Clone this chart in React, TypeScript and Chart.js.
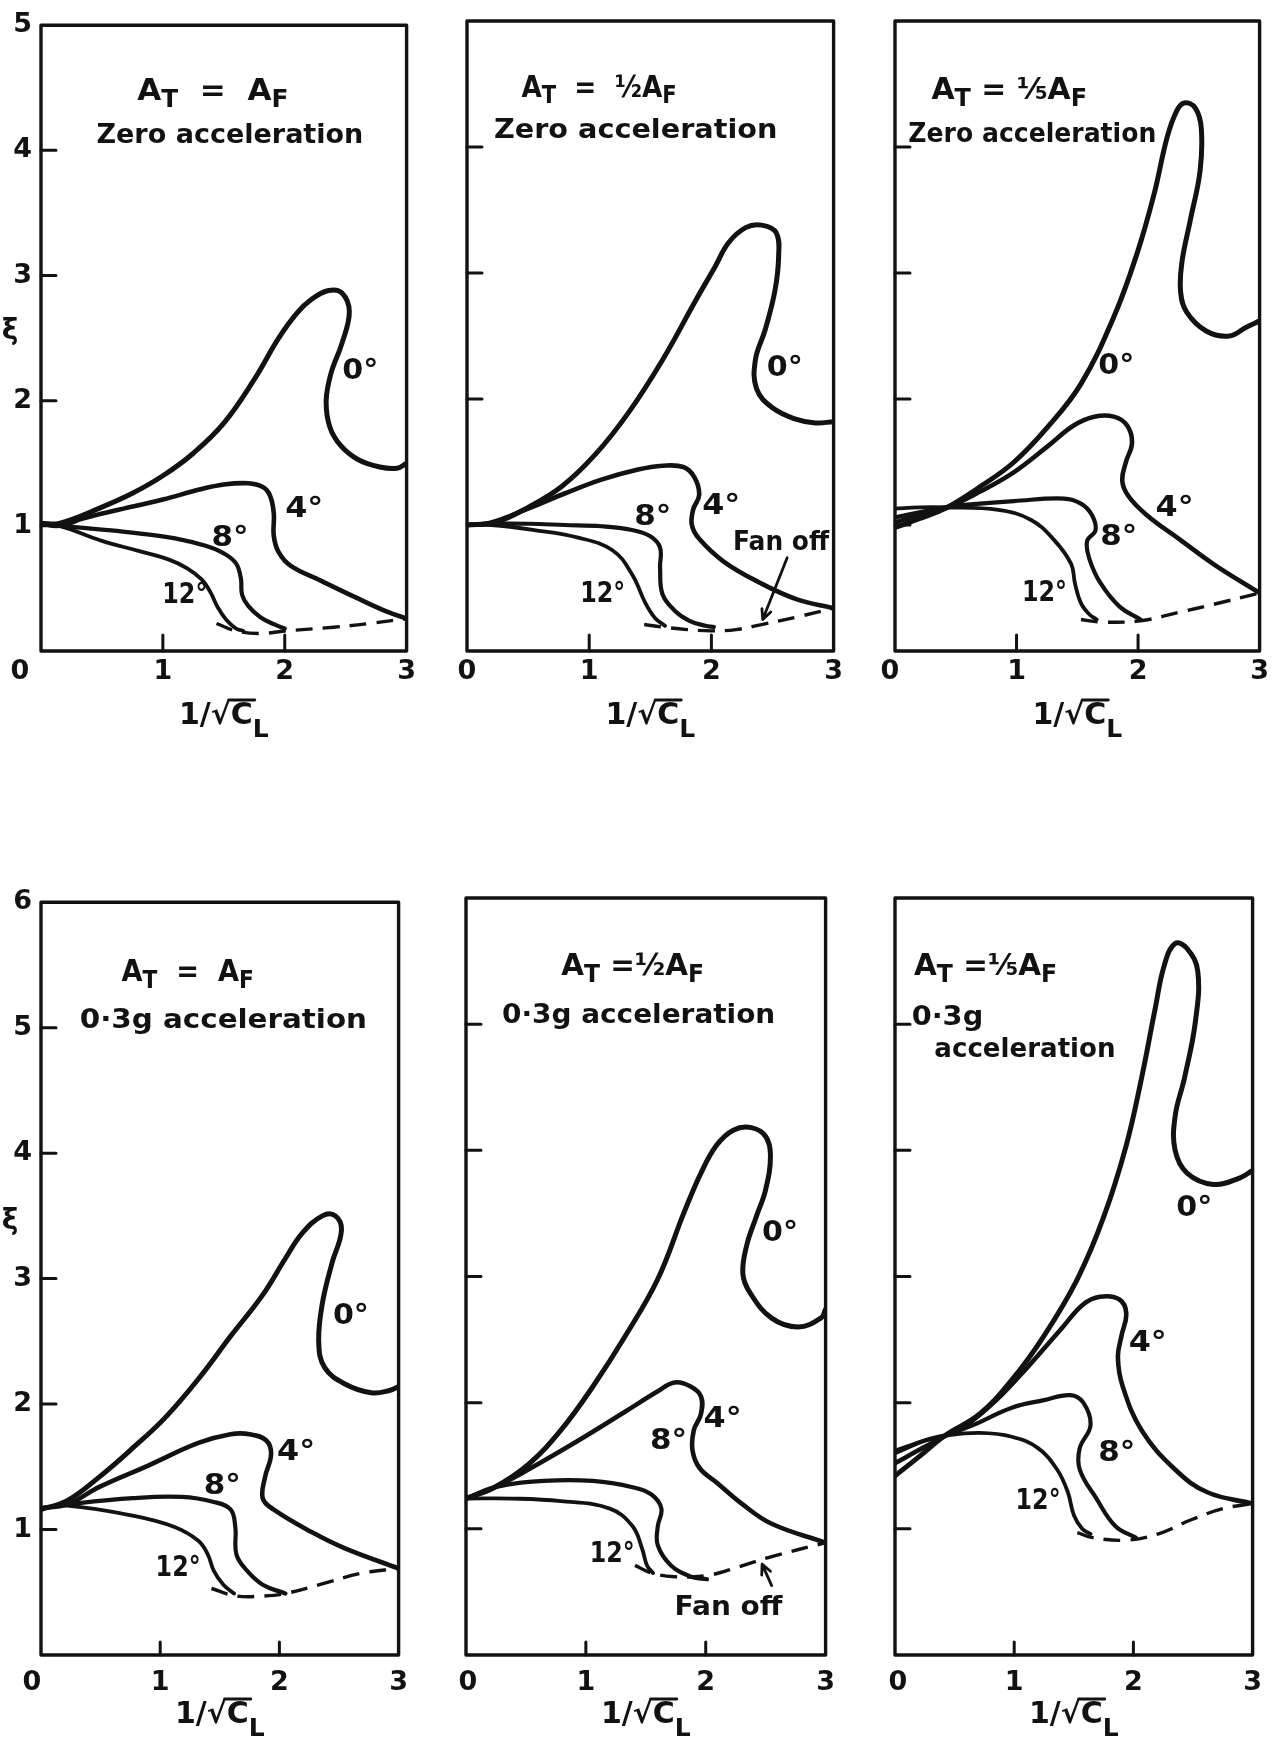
import React, { useEffect, useRef } from 'react';
import { Chart, registerables } from 'chart.js';

Chart.register(...registerables);

const INK = '#121212';
const FONT = '"DejaVu Sans", "Liberation Sans", sans-serif';

// ---------- tick values & labels ----------
const xInnerTickValues = [1, 2];
const yMaxTop = 5;
const yMaxBottom = 6;
const angleLabels = ['0°', '4°', '8°', '12°'];
const fanOffLabel = 'Fan off';
const xiLabel = 'ξ';
const originLabel = '0';
const line2Zero = 'Zero acceleration';
const line2Acc = '0·3g acceleration';
const line2AccA = '0·3g';
const line2AccB = 'acceleration';

// ---------- Panel 1: A_T = A_F, zero acceleration ----------
const p1Deg0 = [[0, 1.02], [0.15, 1.02], [0.5, 1.15], [0.75, 1.26], [1.0, 1.4], [1.25, 1.58], [1.5, 1.82], [1.75, 2.17], [1.95, 2.5], [2.1, 2.7], [2.22, 2.81], [2.36, 2.88], [2.47, 2.86], [2.53, 2.71], [2.47, 2.46], [2.38, 2.22], [2.34, 2.0], [2.37, 1.79], [2.46, 1.64], [2.6, 1.53], [2.78, 1.47], [2.92, 1.46], [3.0, 1.5]];
const p1Deg4 = [[0, 1.02], [0.15, 1.0], [0.35, 1.06], [0.6, 1.12], [1.0, 1.21], [1.3, 1.29], [1.5, 1.33], [1.7, 1.34], [1.82, 1.31], [1.88, 1.24], [1.91, 1.1], [1.91, 0.92], [1.95, 0.79], [2.05, 0.68], [2.3, 0.56], [2.6, 0.42], [2.85, 0.31], [3.0, 0.26]];
const p1Deg8 = [[0, 1.01], [0.15, 1.0], [0.5, 0.97], [0.8, 0.94], [1.1, 0.9], [1.35, 0.84], [1.5, 0.78], [1.6, 0.7], [1.64, 0.58], [1.65, 0.45], [1.7, 0.36], [1.8, 0.27], [1.92, 0.21], [2.0, 0.18]];
const p1Deg12 = [[0, 1.01], [0.15, 1.0], [0.5, 0.88], [0.8, 0.8], [1.05, 0.73], [1.2, 0.66], [1.32, 0.57], [1.39, 0.47], [1.45, 0.35], [1.52, 0.25], [1.6, 0.18], [1.66, 0.16]];
const p1FanOff = [[1.44, 0.22], [1.6, 0.16], [1.8, 0.14], [2.0, 0.16], [2.4, 0.19], [2.7, 0.22], [3.0, 0.26]];

// ---------- Panel 2: A_T = 1/2 A_F, zero acceleration ----------
const p2Deg0 = [[0, 1.0], [0.23, 1.02], [0.5, 1.14], [0.78, 1.31], [1.05, 1.56], [1.32, 1.89], [1.6, 2.31], [1.87, 2.78], [2.03, 3.05], [2.14, 3.24], [2.28, 3.36], [2.41, 3.38], [2.53, 3.32], [2.55, 3.13], [2.52, 2.86], [2.44, 2.55], [2.36, 2.31], [2.37, 2.08], [2.5, 1.93], [2.69, 1.84], [2.85, 1.81], [3.0, 1.82]];
const p2Deg4 = [[0, 1.0], [0.2, 1.02], [0.5, 1.13], [0.8, 1.25], [1.1, 1.36], [1.4, 1.44], [1.6, 1.47], [1.77, 1.46], [1.86, 1.38], [1.9, 1.24], [1.85, 1.12], [1.84, 1.0], [1.9, 0.89], [2.1, 0.71], [2.4, 0.54], [2.7, 0.41], [3.0, 0.34]];
const p2Deg8 = [[0, 1.0], [0.2, 1.01], [0.5, 1.01], [0.8, 1.0], [1.1, 0.99], [1.35, 0.96], [1.5, 0.91], [1.58, 0.82], [1.58, 0.66], [1.6, 0.45], [1.7, 0.32], [1.82, 0.24], [1.95, 0.2], [2.02, 0.19]];
const p2Deg12 = [[0, 1.0], [0.2, 1.0], [0.55, 0.96], [0.91, 0.9], [1.19, 0.8], [1.35, 0.61], [1.46, 0.38], [1.54, 0.26], [1.62, 0.2]];
const p2FanOff = [[1.45, 0.21], [1.6, 0.19], [1.8, 0.17], [2.0, 0.16], [2.2, 0.17], [2.41, 0.21], [2.7, 0.27], [3.0, 0.34]];

// ---------- Panel 3: A_T = 1/5 A_F, zero acceleration ----------
const p3Deg0 = [[0, 0.98], [0.2, 1.05], [0.41, 1.13], [0.71, 1.31], [0.98, 1.5], [1.25, 1.77], [1.53, 2.12], [1.8, 2.65], [1.99, 3.15], [2.13, 3.62], [2.24, 4.08], [2.32, 4.29], [2.38, 4.35], [2.47, 4.31], [2.52, 4.15], [2.51, 3.81], [2.43, 3.42], [2.36, 3.08], [2.35, 2.85], [2.4, 2.69], [2.56, 2.54], [2.75, 2.5], [2.89, 2.57], [3.0, 2.62]];
const p3Deg4 = [[0, 1.02], [0.2, 1.08], [0.41, 1.13], [0.71, 1.27], [0.98, 1.42], [1.25, 1.62], [1.47, 1.79], [1.64, 1.86], [1.8, 1.86], [1.91, 1.79], [1.95, 1.65], [1.9, 1.5], [1.87, 1.35], [1.92, 1.23], [2.07, 1.08], [2.35, 0.88], [2.62, 0.69], [3.0, 0.46]];
const p3Deg8 = [[0, 1.06], [0.2, 1.1], [0.41, 1.14], [0.7, 1.17], [0.98, 1.19], [1.39, 1.21], [1.53, 1.17], [1.62, 1.08], [1.65, 0.96], [1.58, 0.87], [1.6, 0.73], [1.69, 0.54], [1.85, 0.35], [2.02, 0.25]];
const p3Deg12 = [[0, 1.13], [0.2, 1.14], [0.41, 1.14], [0.85, 1.12], [1.12, 1.04], [1.31, 0.88], [1.45, 0.69], [1.48, 0.54], [1.53, 0.38], [1.6, 0.29], [1.66, 0.25]];
const p3FanOff = [[1.53, 0.25], [1.69, 0.23], [2.02, 0.24], [2.35, 0.31], [2.62, 0.37], [3.0, 0.46]];

// ---------- Panel 4: A_T = A_F, 0.3g acceleration ----------
const p4Deg0 = [[0, 1.16], [0.22, 1.23], [0.49, 1.42], [0.77, 1.65], [1.04, 1.89], [1.32, 2.2], [1.59, 2.54], [1.86, 2.87], [2.05, 3.16], [2.19, 3.36], [2.36, 3.5], [2.47, 3.5], [2.52, 3.38], [2.44, 3.12], [2.36, 2.8], [2.33, 2.49], [2.38, 2.29], [2.55, 2.16], [2.77, 2.09], [2.93, 2.11], [3.0, 2.14]];
const p4Deg4 = [[0, 1.17], [0.22, 1.2], [0.49, 1.34], [0.9, 1.51], [1.32, 1.69], [1.59, 1.76], [1.75, 1.76], [1.89, 1.71], [1.93, 1.6], [1.88, 1.42], [1.86, 1.25], [1.95, 1.16], [2.27, 0.98], [2.55, 0.85], [3.0, 0.69]];
const p4Deg8 = [[0, 1.17], [0.22, 1.2], [0.77, 1.25], [1.18, 1.26], [1.45, 1.22], [1.59, 1.16], [1.63, 1.02], [1.64, 0.8], [1.73, 0.67], [1.86, 0.56], [2.05, 0.49]];
const p4Deg12 = [[0, 1.17], [0.22, 1.19], [0.77, 1.11], [1.12, 1.02], [1.32, 0.91], [1.4, 0.8], [1.45, 0.67], [1.53, 0.56], [1.62, 0.49]];
const p4FanOff = [[1.43, 0.53], [1.64, 0.47], [1.86, 0.47], [2.05, 0.49], [2.41, 0.58], [2.68, 0.65], [3.0, 0.69]];

// ---------- Panel 5: A_T = 1/2 A_F, 0.3g acceleration ----------
const p5Deg0 = [[0, 1.24], [0.24, 1.33], [0.52, 1.51], [0.79, 1.78], [1.06, 2.13], [1.33, 2.53], [1.6, 2.98], [1.82, 3.51], [1.96, 3.82], [2.09, 4.04], [2.23, 4.16], [2.38, 4.18], [2.5, 4.11], [2.54, 3.96], [2.5, 3.69], [2.42, 3.47], [2.34, 3.24], [2.31, 3.02], [2.37, 2.87], [2.55, 2.67], [2.77, 2.6], [2.96, 2.67], [3.0, 2.74]];
const p5Deg4 = [[0, 1.24], [0.24, 1.33], [0.52, 1.47], [0.92, 1.69], [1.33, 1.93], [1.6, 2.09], [1.74, 2.16], [1.87, 2.13], [1.96, 2.05], [1.96, 1.91], [1.9, 1.78], [1.89, 1.62], [1.95, 1.48], [2.1, 1.36], [2.3, 1.2], [2.55, 1.04], [3.0, 0.89]];
const p5Deg8 = [[0, 1.24], [0.24, 1.33], [0.65, 1.38], [1.06, 1.38], [1.39, 1.33], [1.55, 1.27], [1.63, 1.16], [1.6, 1.02], [1.6, 0.87], [1.71, 0.71], [1.88, 0.62], [2.01, 0.6]];
const p5Deg12 = [[0, 1.24], [0.38, 1.24], [0.79, 1.22], [1.2, 1.16], [1.39, 1.02], [1.47, 0.84], [1.51, 0.71], [1.56, 0.65]];
const p5FanOff = [[1.41, 0.71], [1.55, 0.65], [1.74, 0.62], [2.01, 0.63], [2.28, 0.7], [2.55, 0.78], [3.0, 0.89]];

// ---------- Panel 6: A_T = 1/5 A_F, 0.3g acceleration ----------
const p6Deg0 = [[0, 1.42], [0.2, 1.57], [0.42, 1.74], [0.71, 1.91], [0.98, 2.18], [1.25, 2.53], [1.53, 2.98], [1.75, 3.47], [1.94, 4.04], [2.07, 4.58], [2.18, 5.11], [2.26, 5.47], [2.35, 5.64], [2.45, 5.6], [2.54, 5.42], [2.52, 5.02], [2.43, 4.58], [2.35, 4.27], [2.35, 4.0], [2.45, 3.82], [2.67, 3.73], [2.89, 3.78], [3.0, 3.84]];
const p6Deg4 = [[0, 1.52], [0.25, 1.65], [0.45, 1.75], [0.57, 1.8], [0.85, 2.02], [1.12, 2.29], [1.39, 2.58], [1.58, 2.78], [1.72, 2.84], [1.88, 2.82], [1.94, 2.71], [1.9, 2.53], [1.87, 2.36], [1.91, 2.13], [2.07, 1.78], [2.35, 1.47], [2.62, 1.29], [3.0, 1.2]];
const p6Deg8 = [[0, 1.6], [0.25, 1.7], [0.45, 1.75], [0.65, 1.82], [0.98, 1.96], [1.25, 2.02], [1.47, 2.06], [1.58, 2.0], [1.64, 1.82], [1.55, 1.64], [1.55, 1.47], [1.69, 1.24], [1.85, 1.02], [2.02, 0.93]];
const p6Deg12 = [[0, 1.62], [0.25, 1.7], [0.44, 1.74], [0.71, 1.76], [0.98, 1.73], [1.2, 1.64], [1.36, 1.47], [1.45, 1.29], [1.5, 1.11], [1.57, 1.0], [1.64, 0.96]];
const p6FanOff = [[1.53, 0.97], [1.66, 0.93], [1.94, 0.91], [2.21, 0.96], [2.48, 1.07], [2.75, 1.16], [3.0, 1.2]];

// ---------- layout (positions / sizes / styles) ----------
type Seg = { t: string; sub?: boolean };
const eqSame: Seg[] = [{ t: 'A' }, { t: 'T', sub: true }, { t: '  =  ' }, { t: 'A' }, { t: 'F', sub: true }];
const eqHalf: Seg[] = [{ t: 'A' }, { t: 'T', sub: true }, { t: '  =  ½' }, { t: 'A' }, { t: 'F', sub: true }];
const eqFifth: Seg[] = [{ t: 'A' }, { t: 'T', sub: true }, { t: ' = ⅕' }, { t: 'A' }, { t: 'F', sub: true }];
const eqHalfTight: Seg[] = [{ t: 'A' }, { t: 'T', sub: true }, { t: ' =½' }, { t: 'A' }, { t: 'F', sub: true }];
const eqFifthTight: Seg[] = [{ t: 'A' }, { t: 'T', sub: true }, { t: ' =⅕' }, { t: 'A' }, { t: 'F', sub: true }];

const SERIES_STYLE = [
  { w: 5.0, dash: [] as number[] },
  { w: 4.6, dash: [] as number[] },
  { w: 4.2, dash: [] as number[] },
  { w: 3.8, dash: [] as number[] },
];
const FAN_STYLE = { w: 3.4, dash: [17, 10] };

interface TitleLine { segs: Seg[]; x: number; y: number; w: number; size: number; align: 'center' | 'left' }
interface PanelSpec {
  L: number; R: number; T: number; B: number; yMax: number;
  series: number[][][]; fanOff: number[][];
  showY: boolean; xiY?: number;
  titles: TitleLine[];
  angleAt: number[][]; angleW: number[];
  fanText?: { x: number; y: number; w: number };
  arrow?: { x1: number; y1: number; x2: number; y2: number };
  originDx: number; labelPad: number; originDy: number; xTickLen: number; titleDy: number;
}

const ANGLE_W = [36, 38, 37, 45];

const PANELS: PanelSpec[] = [
  {
    L: 41, R: 407, T: 21, B: 651, yMax: yMaxTop,
    series: [p1Deg0, p1Deg4, p1Deg8, p1Deg12], fanOff: p1FanOff, showY: true, xiY: 2.55,
    titles: [
      { segs: eqSame, x: 1.41, y: 4.4, w: 1.24, size: 30, align: 'center' },
      { segs: [{ t: line2Zero }], x: 1.55, y: 4.06, w: 2.19, size: 26, align: 'center' },
    ],
    angleAt: [[2.62, 2.25], [2.16, 1.15], [1.55, 0.92], [1.18, 0.46]], angleW: ANGLE_W,
    originDx: -21, labelPad: 5, originDy: 21, xTickLen: 16, titleDy: 73,
  },
  {
    L: 467, R: 834, T: 21, B: 651, yMax: yMaxTop,
    series: [p2Deg0, p2Deg4, p2Deg8, p2Deg12], fanOff: p2FanOff, showY: false,
    titles: [
      { segs: eqHalf, x: 1.08, y: 4.4, w: 1.27, size: 30, align: 'center' },
      { segs: [{ t: line2Zero }], x: 1.38, y: 4.07, w: 2.32, size: 26, align: 'center' },
    ],
    angleAt: [[2.6, 2.26], [2.08, 1.17], [1.52, 1.08], [1.11, 0.47]], angleW: ANGLE_W,
    fanText: { x: 2.57, y: 0.8, w: 96 },
    arrow: { x1: 2.62, y1: 0.74, x2: 2.42, y2: 0.25 },
    originDx: 0, labelPad: 5, originDy: 21, xTickLen: 16, titleDy: 73,
  },
  {
    L: 895, R: 1260, T: 21, B: 651, yMax: yMaxTop,
    series: [p3Deg0, p3Deg4, p3Deg8, p3Deg12], fanOff: p3FanOff, showY: false,
    titles: [
      { segs: eqFifth, x: 0.94, y: 4.38, w: 1.28, size: 30, align: 'center' },
      { segs: [{ t: line2Zero }], x: 1.13, y: 4.04, w: 2.04, size: 26, align: 'center' },
    ],
    angleAt: [[1.82, 2.28], [2.3, 1.15], [1.84, 0.92], [1.23, 0.48]], angleW: ANGLE_W,
    originDx: -5, labelPad: 5, originDy: 21, xTickLen: 16, titleDy: 73,
  },
  {
    L: 41, R: 406, T: 898, B: 1655, yMax: yMaxBottom,
    series: [p4Deg0, p4Deg4, p4Deg8, p4Deg12], fanOff: p4FanOff, showY: true, xiY: 3.45,
    titles: [
      { segs: eqSame, x: 1.23, y: 5.37, w: 1.11, size: 30, align: 'center' },
      { segs: [{ t: line2Acc }], x: 1.53, y: 5.0, w: 2.41, size: 26, align: 'center' },
    ],
    angleAt: [[2.6, 2.72], [2.14, 1.63], [1.52, 1.36], [1.15, 0.71]], angleW: ANGLE_W,
    originDx: -9, labelPad: 12, originDy: 28, xTickLen: 13, titleDy: 68,
  },
  {
    L: 466, R: 833, T: 898, B: 1655, yMax: yMaxBottom,
    series: [p5Deg0, p5Deg4, p5Deg8, p5Deg12], fanOff: p5FanOff, showY: false,
    titles: [
      { segs: eqHalfTight, x: 1.39, y: 5.39, w: 1.19, size: 30, align: 'center' },
      { segs: [{ t: line2Acc }], x: 1.44, y: 5.01, w: 2.28, size: 26, align: 'center' },
    ],
    angleAt: [[2.62, 3.36], [2.14, 1.89], [1.69, 1.71], [1.22, 0.82]], angleW: ANGLE_W,
    fanText: { x: 2.19, y: 0.32, w: 108 },
    arrow: { x1: 2.55, y1: 0.55, x2: 2.47, y2: 0.72 },
    originDx: 2, labelPad: 12, originDy: 28, xTickLen: 13, titleDy: 68,
  },
  {
    L: 895, R: 1260, T: 898, B: 1655, yMax: yMaxBottom,
    series: [p6Deg0, p6Deg4, p6Deg8, p6Deg12], fanOff: p6FanOff, showY: false,
    titles: [
      { segs: eqFifthTight, x: 0.76, y: 5.39, w: 1.2, size: 30, align: 'center' },
      { segs: [{ t: line2AccA }], x: 0.14, y: 4.99, w: 0.6, size: 26, align: 'left' },
      { segs: [{ t: line2AccB }], x: 1.09, y: 4.74, w: 1.52, size: 26, align: 'center' },
    ],
    angleAt: [[2.51, 3.56], [2.12, 2.49], [1.86, 1.62], [1.2, 1.24]], angleW: ANGLE_W,
    originDx: 3, labelPad: 12, originDy: 28, xTickLen: 13, titleDy: 68,
  },
];

const Y_AXIS_W = 41;
const PAD_TOP = 21;
const PAD_RIGHT = 14;
const X_AXIS_H = 90;

function drawRich(ctx: CanvasRenderingContext2D, segs: Seg[], x: number, y: number, size: number, align: 'center' | 'left', targetW?: number, subScale = 0.8) {
  const mainF = `bold ${size}px ${FONT}`;
  const subF = `bold ${Math.round(size * subScale)}px ${FONT}`;
  const ws = segs.map((s) => { ctx.font = s.sub ? subF : mainF; return ctx.measureText(s.t).width; });
  const total = ws.reduce((a, b) => a + b, 0);
  const k = targetW ? targetW / total : 1;
  ctx.save();
  ctx.translate(x, y);
  ctx.scale(k, 1);
  let cx = align === 'center' ? -total / 2 : 0;
  ctx.textAlign = 'left';
  ctx.textBaseline = 'alphabetic';
  segs.forEach((s, i) => {
    ctx.font = s.sub ? subF : mainF;
    ctx.fillText(s.t, cx, s.sub ? size * 0.22 : 0);
    cx += ws[i];
  });
  ctx.restore();
}

function drawArrow(ctx: CanvasRenderingContext2D, x1: number, y1: number, x2: number, y2: number) {
  ctx.beginPath();
  ctx.moveTo(x1, y1);
  ctx.lineTo(x2, y2);
  const ang = Math.atan2(y2 - y1, x2 - x1);
  const h = 11;
  ctx.moveTo(x2 - h * Math.cos(ang - 0.45), y2 - h * Math.sin(ang - 0.45));
  ctx.lineTo(x2, y2);
  ctx.lineTo(x2 - h * Math.cos(ang + 0.45), y2 - h * Math.sin(ang + 0.45));
  ctx.stroke();
}

function makePlugin(p: PanelSpec) {
  return {
    id: 'panelDecor',
    afterDatasetsDraw(chart: any) {
      const { ctx, chartArea: a } = chart;
      const xs = chart.scales.x;
      const ys = chart.scales.y;
      const unitX = xs.getPixelForValue(1) - xs.getPixelForValue(0);
      ctx.save();
      ctx.strokeStyle = INK;
      ctx.fillStyle = INK;
      ctx.lineCap = 'round';
      ctx.lineJoin = 'round';
      // frame
      ctx.lineWidth = 3.4;
      ctx.strokeRect(a.left, a.top, a.right - a.left, a.bottom - a.top);
      // inward ticks
      ctx.lineWidth = 3;
      ctx.beginPath();
      xInnerTickValues.forEach((v) => {
        const px = xs.getPixelForValue(v);
        ctx.moveTo(px, a.bottom);
        ctx.lineTo(px, a.bottom - p.xTickLen);
      });
      for (let v = 1; v < p.yMax; v++) {
        const py = ys.getPixelForValue(v);
        ctx.moveTo(a.left, py);
        ctx.lineTo(a.left + 15, py);
      }
      ctx.stroke();
      // origin label
      ctx.font = `bold 27px ${FONT}`;
      ctx.textAlign = 'center';
      ctx.textBaseline = 'middle';
      ctx.fillText(originLabel, xs.getPixelForValue(0) + p.originDx, a.bottom + p.originDy);
      // x axis title 1/√C_L
      {
        const size = 30;
        const base = a.bottom + p.titleDy;
        const cxm = (a.left + a.right) / 2;
        ctx.font = `bold ${size}px ${FONT}`;
        const w1 = ctx.measureText('1/').width;
        const w2 = ctx.measureText('√').width;
        const w3 = ctx.measureText('C').width;
        ctx.font = `bold 25px ${FONT}`;
        const w4 = ctx.measureText('L').width;
        const total = w1 + w2 + w3 + w4;
        const x0 = cxm - total / 2;
        ctx.textAlign = 'left';
        ctx.textBaseline = 'alphabetic';
        ctx.font = `bold ${size}px ${FONT}`;
        ctx.fillText('1/', x0, base);
        ctx.fillText('√', x0 + w1, base);
        ctx.fillText('C', x0 + w1 + w2, base);
        ctx.font = `bold 25px ${FONT}`;
        ctx.fillText('L', x0 + w1 + w2 + w3, base + 13);
        ctx.lineWidth = 2.8;
        ctx.beginPath();
        const yTop = base - size * 0.8;
        ctx.moveTo(x0 + w1 + w2 - 2, yTop);
        ctx.lineTo(x0 + w1 + w2 + w3 + 2, yTop);
        ctx.stroke();
      }
      // xi label
      if (p.xiY !== undefined) {
        ctx.font = `bold 28px ${FONT}`;
        ctx.textAlign = 'center';
        ctx.textBaseline = 'middle';
        ctx.fillText(xiLabel, 10, ys.getPixelForValue(p.xiY));
      }
      // titles
      p.titles.forEach((t) => {
        drawRich(ctx, t.segs, xs.getPixelForValue(t.x), ys.getPixelForValue(t.y), t.size, t.align, t.w * unitX);
      });
      // angle labels
      p.angleAt.forEach((pt, i) => {
        const px = xs.getPixelForValue(pt[0]);
        const py = ys.getPixelForValue(pt[1]) + 10;
        drawRich(ctx, [{ t: angleLabels[i] }], px, py, 28, 'center', p.angleW[i]);
      });
      // fan off text & arrow
      if (p.fanText) {
        drawRich(ctx, [{ t: fanOffLabel }], xs.getPixelForValue(p.fanText.x), ys.getPixelForValue(p.fanText.y), 26, 'center', p.fanText.w);
      }
      if (p.arrow) {
        ctx.lineWidth = 2.8;
        drawArrow(ctx, xs.getPixelForValue(p.arrow.x1), ys.getPixelForValue(p.arrow.y1), xs.getPixelForValue(p.arrow.x2), ys.getPixelForValue(p.arrow.y2));
      }
      ctx.restore();
    },
  };
}

function toXY(arr: number[][]) {
  return arr.map((d) => ({ x: d[0], y: d[1] }));
}

function makeConfig(p: PanelSpec): any {
  const datasets: any[] = p.series.map((s, i) => ({
    label: angleLabels[i],
    data: toXY(s),
    showLine: true,
    borderColor: INK,
    backgroundColor: INK,
    borderWidth: SERIES_STYLE[i].w,
    borderDash: SERIES_STYLE[i].dash,
    pointRadius: 0,
    tension: 0.4,
    fill: false,
    borderCapStyle: 'round',
    borderJoinStyle: 'round',
  }));
  datasets.push({
    label: fanOffLabel,
    data: toXY(p.fanOff),
    showLine: true,
    borderColor: INK,
    borderWidth: FAN_STYLE.w,
    borderDash: FAN_STYLE.dash,
    pointRadius: 0,
    tension: 0.4,
    fill: false,
  });
  const tickFont = { family: FONT, size: 27, weight: 'bold' as const };
  return {
    type: 'scatter',
    data: { datasets },
    options: {
      animation: false,
      responsive: false,
      maintainAspectRatio: false,
      devicePixelRatio: 1,
      layout: { padding: { left: 0, top: PAD_TOP, right: PAD_RIGHT, bottom: 0 } },
      plugins: { legend: { display: false }, tooltip: { enabled: false }, title: { display: false } },
      scales: {
        x: {
          type: 'linear',
          min: 0,
          max: 3,
          afterFit: (s: any) => { s.height = X_AXIS_H; },
          grid: { display: false, drawTicks: false },
          border: { display: false },
          ticks: {
            stepSize: 1,
            autoSkip: false,
            maxRotation: 0,
            padding: p.labelPad,
            color: INK,
            font: tickFont,
            callback: (v: any) => (Number(v) === 0 ? '' : String(v)),
          },
        },
        y: {
          type: 'linear',
          min: 0,
          max: p.yMax,
          afterFit: (s: any) => { s.width = Y_AXIS_W; },
          grid: { display: false, drawTicks: false },
          border: { display: false },
          ticks: {
            display: p.showY,
            stepSize: 1,
            padding: 9,
            color: INK,
            font: tickFont,
            callback: (v: any) => (Number(v) === 0 ? '' : String(v)),
          },
        },
      },
    },
    plugins: [makePlugin(p)],
  };
}

function Panel({ p }: { p: PanelSpec }) {
  const ref = useRef<HTMLCanvasElement>(null);
  const w = p.R - p.L + Y_AXIS_W + PAD_RIGHT;
  const h = p.B - p.T + PAD_TOP + X_AXIS_H;
  useEffect(() => {
    if (!ref.current) return;
    const chart = new Chart(ref.current, makeConfig(p));
    return () => chart.destroy();
  }, []);
  return (
    <canvas
      ref={ref}
      width={w}
      height={h}
      style={{ position: 'absolute', left: p.L - Y_AXIS_W, top: p.T - PAD_TOP, width: w, height: h, display: 'block' }}
    />
  );
}

export default function App() {
  return (
    <div style={{ position: 'absolute', left: 0, top: 0, width: 1278, height: 1746, background: '#ffffff', overflow: 'hidden' }}>
      {PANELS.map((p, i) => (
        <Panel key={i} p={p} />
      ))}
    </div>
  );
}
